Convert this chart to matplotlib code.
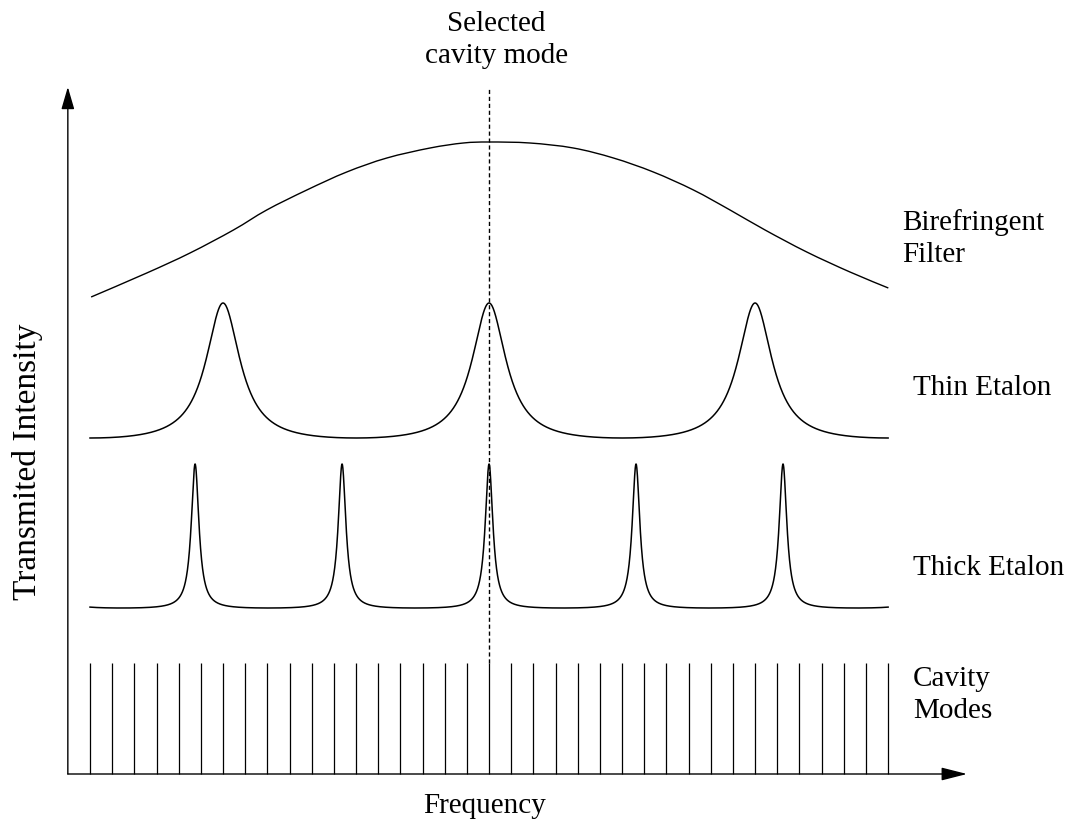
import matplotlib

matplotlib.use("Agg")
import matplotlib.pyplot as plt
import numpy as np
from matplotlib.path import Path
from matplotlib.patches import PathPatch

# frequency in units of the cavity mode spacing, selected mode at 0
cavity_modes = np.arange(-18, 19)
cavity_height = 1.11

# birefringent filter
bf_freq = [-17.95, -15.44, -13.49, -11.53, -10.03, -8.22, -6.42, -4.61, -2.66, -1.16, 0.0,
           1.84, 3.80, 5.61, 7.41, 9.22, 10.87, 12.45, 14.33, 16.28, 18.01]
bf_level = [4.77, 5.01, 5.21, 5.44, 5.64, 5.84, 6.02, 6.16, 6.26, 6.31, 6.32,
            6.31, 6.26, 6.16, 6.02, 5.84, 5.64, 5.44, 5.22, 5.02, 4.86]

# etalons: free spectral range, FWHM, baseline, peak level
thin_fsr, thin_fwhm, thin_base, thin_peak = 12.0, 1.88, 3.36, 4.71
thick_fsr, thick_fwhm, thick_base, thick_peak = 6.63, 0.42, 1.66, 3.10
span = (-18.0, 18.0)

labels = {
    "selected": "Selected\ncavity mode",
    "bf": "Birefringent\nFilter",
    "thin": "Thin Etalon",
    "thick": "Thick Etalon",
    "cavity": "Cavity\nModes",
    "x": "Frequency",
    "y": "Transmited Intensity",
}


def airy(f, fsr, fwhm, base, peak):
    coef = (2 * fsr / (np.pi * fwhm)) ** 2
    t = 1.0 / (1.0 + coef * np.sin(np.pi * f / fsr) ** 2)
    tmin = 1.0 / (1.0 + coef)
    return base + (peak - base) * (t - tmin) / (1 - tmin)


def smooth_path(xs, ys):
    # catmull-rom through the points, drawn as cubic bezier segments
    pts = np.column_stack([xs, ys])
    padded = np.vstack([pts[0], pts, pts[-1]])
    verts = [pts[0]]
    codes = [Path.MOVETO]
    for i in range(1, len(padded) - 2):
        p0, p1, p2, p3 = padded[i - 1], padded[i], padded[i + 1], padded[i + 2]
        verts += [p1 + (p2 - p0) / 6, p2 - (p3 - p1) / 6, p2]
        codes += [Path.CURVE4] * 3
    return Path(verts, codes)


plt.rcParams["font.family"] = ["Liberation Serif", "DejaVu Serif"]
fig = plt.figure(figsize=(10.73, 8.25), dpi=100)
ax = fig.add_axes([0, 0, 1, 1])
ax.set_xlim(-22.06, 26.34)
ax.set_ylim(-0.51, 7.74)
ax.axis("off")

f = np.linspace(span[0], span[1], 4000)
ax.add_patch(PathPatch(smooth_path(bf_freq, bf_level), fill=False, edgecolor="black", lw=1.0))
ax.plot(f, airy(f, thin_fsr, thin_fwhm, thin_base, thin_peak), color="black", lw=1.1)
ax.plot(f, airy(f, thick_fsr, thick_fwhm, thick_base, thick_peak), color="black", lw=1.1)
ax.vlines(cavity_modes, 0, cavity_height, color="black", lw=0.9)
ax.plot([0, 0], [cavity_height, 6.87], color="black", lw=1.0, ls=(0, (3, 2)))

# axes with arrow heads
ax.annotate("", xy=(-19.0, 6.87), xytext=(-19.0, 0),
            arrowprops=dict(arrowstyle="-|>,head_length=1.37,head_width=0.4", mutation_scale=10,
                            lw=1.0, color="black", shrinkA=0, shrinkB=0))
ax.annotate("", xy=(21.56, 0), xytext=(-19.0, 0),
            arrowprops=dict(arrowstyle="-|>,head_length=1.58,head_width=0.4", mutation_scale=10,
                            lw=1.0, color="black", shrinkA=0, shrinkB=0))

fs = 21
ax.text(0.32, 7.63, labels["selected"], ha="center", va="top", fontsize=fs, linespacing=1.3)
ax.text(18.63, 5.65, labels["bf"], ha="left", va="top", fontsize=fs, linespacing=1.3)
ax.text(19.13, 3.86, labels["thin"], ha="left", va="center", fontsize=fs)
ax.text(19.13, 2.06, labels["thick"], ha="left", va="center", fontsize=fs)
ax.text(19.13, 0.79, labels["cavity"], ha="left", va="center", fontsize=fs, linespacing=1.3)
ax.text(-0.18, -0.32, labels["x"], ha="center", va="center", fontsize=fs)
ax.text(-20.8, 3.12, labels["y"], ha="center", va="center", rotation=90, fontsize=24)

fig.savefig("out.png", dpi=100)
